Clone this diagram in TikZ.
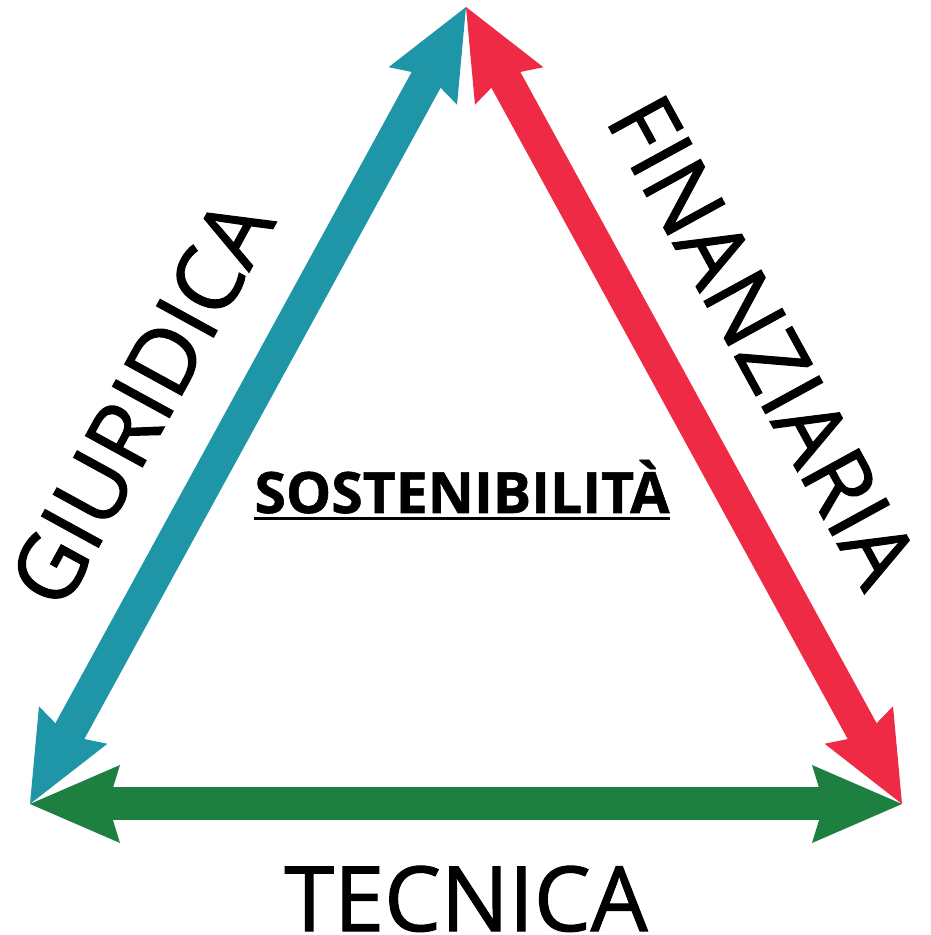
\documentclass[tikz,border=0pt]{standalone}
\usepackage{fontspec}
\setmainfont{Open Sans}
\newfontfamily\labelfont{Open Sans}[FakeBold=1.2]
\newfontfamily\heavyfont{Open Sans Bold}[FakeBold=1.0]
\usetikzlibrary{arrows.meta}
\definecolor{tealc}{RGB}{31,150,168}
\definecolor{redc}{RGB}{238,42,69}
\definecolor{greenc}{RGB}{30,128,64}
\tikzset{
  tipx/.tip={Stealth[length=90pt,width=78pt,inset=12pt,line width=0pt]},
  dblarrow/.style={line width=33pt, tipx-tipx},
  sidelabel/.style={inner sep=0pt, font=\labelfont\fontsize{91}{91}\selectfont},
}
\begin{document}
\begin{tikzpicture}[x=1pt,y=1pt]
\useasboundingbox (0,0) rectangle (931,935);
\coordinate (top) at (466,928);
\coordinate (bl) at (30,131);
\coordinate (br) at (902,131);
\draw[dblarrow, draw=tealc, fill=tealc] (bl) -- (top);
\draw[dblarrow, draw=redc, fill=redc] (top) -- (br);
\draw[dblarrow, draw=greenc, fill=greenc] (bl) -- (br);
\node[sidelabel, rotate=61.3] (giur) at (141,533) {GIURIDICA};
\node[sidelabel, rotate=-61.3] (fin) at (763,594) {FINANZIARIA};
\node[inner sep=0pt, anchor=base, font=\labelfont\fontsize{90}{90}\selectfont] (tec) at (466,4) {TECNICA};
\node[inner sep=0pt, anchor=base, font=\heavyfont\fontsize{57}{57}\selectfont] (sost) at (462,422) {SOSTENIBILITÀ};
\draw[line width=2.5pt] ([yshift=-5.5pt]sost.base west) -- ([yshift=-5.5pt]sost.base east);
\end{tikzpicture}
\end{document}
